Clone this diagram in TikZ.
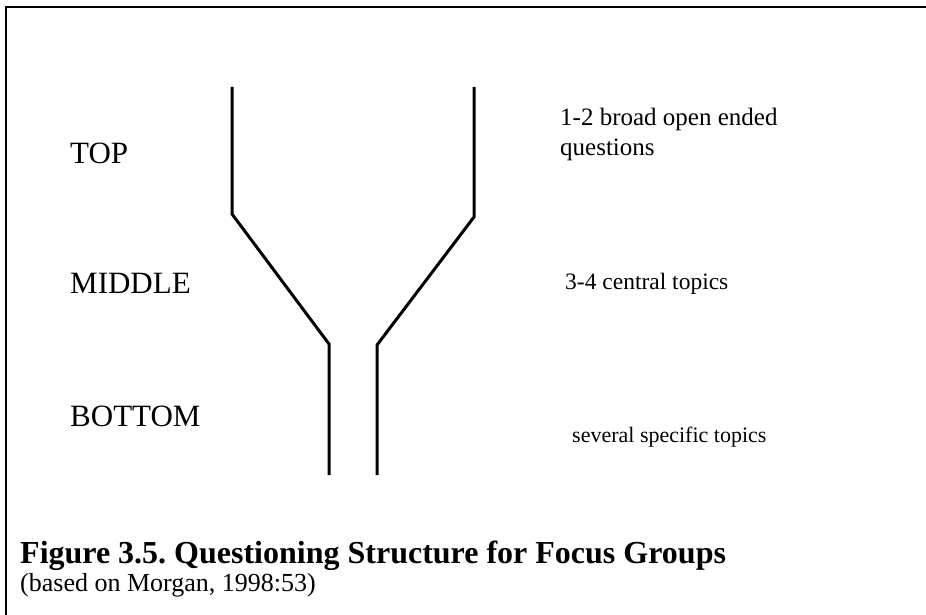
\documentclass[tikz,border=0pt]{standalone}
\usepackage{fontspec}
\setmainfont{Liberation Serif}
\frenchspacing
\begin{document}
\begin{tikzpicture}[x=1pt,y=-1pt,
  level/.style={anchor=base west,inner sep=0pt,font=\fontsize{31}{36}\selectfont},
  note/.style={anchor=base west,inner sep=0pt,align=left,font=\fontsize{25}{29.5}\selectfont},
  title/.style={anchor=base west,inner sep=0pt,font=\fontsize{32}{36}\selectfont\bfseries},
  source/.style={anchor=base west,inner sep=0pt,font=\fontsize{26}{30}\selectfont},
  wall/.style={line width=3pt,line join=miter},
  frame/.style={line width=2pt}]
\useasboundingbox (0,0) rectangle (926,615);
% open frame: top and left edges only
\coordinate (fl) at (6,615);
\coordinate (fc) at (6,7);
\coordinate (fr) at (926,7);
\draw[frame] (fl) -- (fc) -- (fr);
% funnel walls
\coordinate (l1) at (232,87);
\coordinate (l2) at (232,214);
\coordinate (l3) at (329,344);
\coordinate (l4) at (329,475);
\coordinate (r1) at (474,87);
\coordinate (r2) at (474,217);
\coordinate (r3) at (377,345);
\coordinate (r4) at (377,475);
\draw[wall] (l1) -- (l2) -- (l3) -- (l4);
\draw[wall] (r1) -- (r2) -- (r3) -- (r4);
% level names
\node[level] (top) at (70,163) {TOP};
\node[level] (mid) at (70,293) {MIDDLE};
\node[level] (bot) at (70,426) {BOTTOM};
% question notes (a two-line node sits on the baseline of its last line)
\node[note] (q1) at (560,155) {1-2 broad open ended\\questions};
\node[note, font=\fontsize{23.5}{28}\selectfont] (q2) at (565,289) {3-4 central topics};
\node[note, font=\fontsize{22}{26}\selectfont] (q3) at (572,442) {several specific topics};
% caption
\node[title] (cap) at (20,563) {Figure 3.5. Questioning Structure for Focus Groups};
\node[source] (src) at (20,591) {(based on Morgan, 1998:53)};
\end{tikzpicture}
\end{document}
